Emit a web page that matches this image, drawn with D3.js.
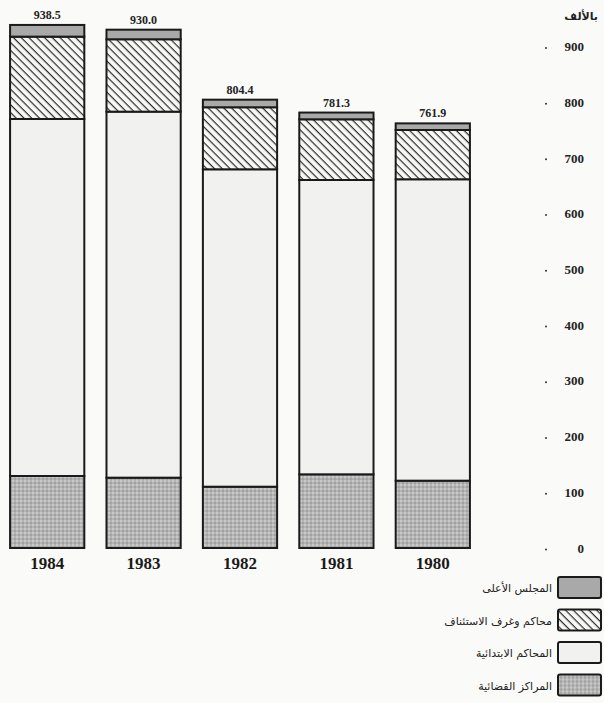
<!DOCTYPE html>
<html>
<head>
<meta charset="utf-8">
<script src="https://cdn.jsdelivr.net/npm/d3@7"></script>
<style>
  body { margin: 0; background: #fafaf8; }
  svg { display: block; }
</style>
</head>
<body>
<script>
// Data (thousands of cases)
const years = ['1984', '1983', '1982', '1981', '1980'];
const seriesNames = ['المراكز القضائية', 'المحاكم الابتدائية', 'محاكم وغرف الاستئناف', 'المجلس الأعلى'];
const judicialCenters = [129.2, 126.2, 110.0, 132.2, 120.8];
const firstInstance = [640.6, 656.7, 569.5, 528.1, 540.8];
const appealCourts = [147.7, 129.9, 111.3, 108.9, 88.4];
const supremeCouncil = [21.0, 17.2, 13.6, 12.1, 11.9];
const totals = ['938.5', '930.0', '804.4', '781.3', '761.9'];
const yTicks = [0, 100, 200, 300, 400, 500, 600, 700, 800, 900];
const unitLabel = 'بالألف';

const width = 604, height = 703;
const serif = '"Liberation Serif", "DejaVu Serif", serif';
const arabicFont = '"DejaVu Sans", "Noto Sans", sans-serif';

const svg = d3.select('body')
    .append('svg')
    .attr('width', width)
    .attr('height', height);

// Patterns
const defs = svg.append('defs');

const hatch = defs.append('pattern')
    .attr('id', 'hatch')
    .attr('patternUnits', 'userSpaceOnUse')
    .attr('width', 5.5)
    .attr('height', 5.5)
    .attr('patternTransform', 'rotate(45)');
hatch.append('rect').attr('width', 5.5).attr('height', 5.5).attr('fill', '#f7f7f5');
hatch.append('line')
    .attr('x1', 0).attr('y1', 0).attr('x2', 5.5).attr('y2', 0)
    .attr('stroke', '#2a2a2a').attr('stroke-width', 2.4);

const dots = defs.append('pattern')
    .attr('id', 'dots')
    .attr('patternUnits', 'userSpaceOnUse')
    .attr('width', 4)
    .attr('height', 4);
dots.append('rect').attr('width', 4).attr('height', 4).attr('fill', '#b4b4b4');
dots.append('rect').attr('x', 0).attr('y', 0).attr('width', 2).attr('height', 2).attr('fill', '#c8c8c8');
dots.append('rect').attr('x', 2).attr('y', 2).attr('width', 2).attr('height', 2).attr('fill', '#a2a2a2');

const fills = ['url(#dots)', '#f1f1ef', 'url(#hatch)', '#a9a9a9'];

// Stack data
const table = years.map((yr, i) => ({
    year: yr,
    s0: judicialCenters[i],
    s1: firstInstance[i],
    s2: appealCourts[i],
    s3: supremeCouncil[i]
}));
const stack = d3.stack().keys(['s0', 's1', 's2', 's3'])(table);

// Scales
const x = d3.scaleBand()
    .domain(years)
    .range([-1, 481])
    .paddingInner(0.23)
    .paddingOuter(0.115);

const y = d3.scaleLinear()
    .domain([0, 900])
    .range([548, 46.4]);

// Bars
svg.append('g')
    .selectAll('g')
    .data(stack)
    .enter()
    .append('g')
    .attr('fill', (d, i) => fills[i])
    .selectAll('rect')
    .data(d => d)
    .enter()
    .append('rect')
    .attr('x', d => x(d.data.year))
    .attr('y', d => y(d[1]))
    .attr('width', x.bandwidth())
    .attr('height', d => y(d[0]) - y(d[1]))
    .attr('stroke', '#1a1a1a')
    .attr('stroke-width', 2);

// Total labels
svg.append('g')
    .selectAll('text')
    .data(table)
    .enter()
    .append('text')
    .attr('x', d => x(d.year) + x.bandwidth() / 2)
    .attr('y', (d, i) => y(stack[3][i][1]) - 6)
    .attr('text-anchor', 'middle')
    .style('font-family', serif)
    .style('font-weight', 'bold')
    .style('font-size', '12px')
    .attr('fill', '#222')
    .text((d, i) => totals[i]);

// Year labels
svg.append('g')
    .selectAll('text')
    .data(years)
    .enter()
    .append('text')
    .attr('x', d => x(d) + x.bandwidth() / 2)
    .attr('y', 569)
    .attr('text-anchor', 'middle')
    .style('font-family', serif)
    .style('font-weight', 'bold')
    .style('font-size', '17px')
    .attr('fill', '#1a1a1a')
    .text(d => d);

// Right axis
const yAxis = d3.axisRight(y).tickValues(yTicks).tickSize(0).tickPadding(0);
const axisG = svg.append('g')
    .attr('transform', 'translate(546,0)')
    .call(yAxis);
axisG.select('.domain').remove();
axisG.selectAll('.tick text')
    .attr('x', 38)
    .attr('text-anchor', 'end')
    .style('font-family', serif)
    .style('font-weight', 'bold')
    .style('font-size', '13px')
    .attr('fill', '#222');
axisG.selectAll('.tick')
    .append('circle')
    .attr('cx', 0)
    .attr('cy', 1)
    .attr('r', 1)
    .attr('fill', '#333');

svg.append('text')
    .attr('x', 598)
    .attr('y', 20)
    .attr('text-anchor', 'end')
    .style('font-family', arabicFont)
    .style('font-size', '11px')
    .style('font-weight', 'bold')
    .attr('fill', '#222')
    .text(unitLabel);

// Legend (top to bottom: supreme council first)
const legendOrder = [3, 2, 1, 0];
const legend = svg.append('g')
    .selectAll('g')
    .data(legendOrder)
    .enter()
    .append('g')
    .attr('transform', (d, i) => `translate(558,${577 + i * 32.5})`);
legend.append('rect')
    .attr('width', 43)
    .attr('height', 21)
    .attr('fill', d => fills[d])
    .attr('stroke', '#1a1a1a')
    .attr('stroke-width', 2)
    .attr('rx', 2);
legend.append('text')
    .attr('x', -6)
    .attr('y', 15)
    .attr('text-anchor', 'end')
    .style('font-family', arabicFont)
    .style('font-size', '11px')
    .attr('fill', '#222')
    .text(d => seriesNames[d]);
</script>
</body>
</html>
